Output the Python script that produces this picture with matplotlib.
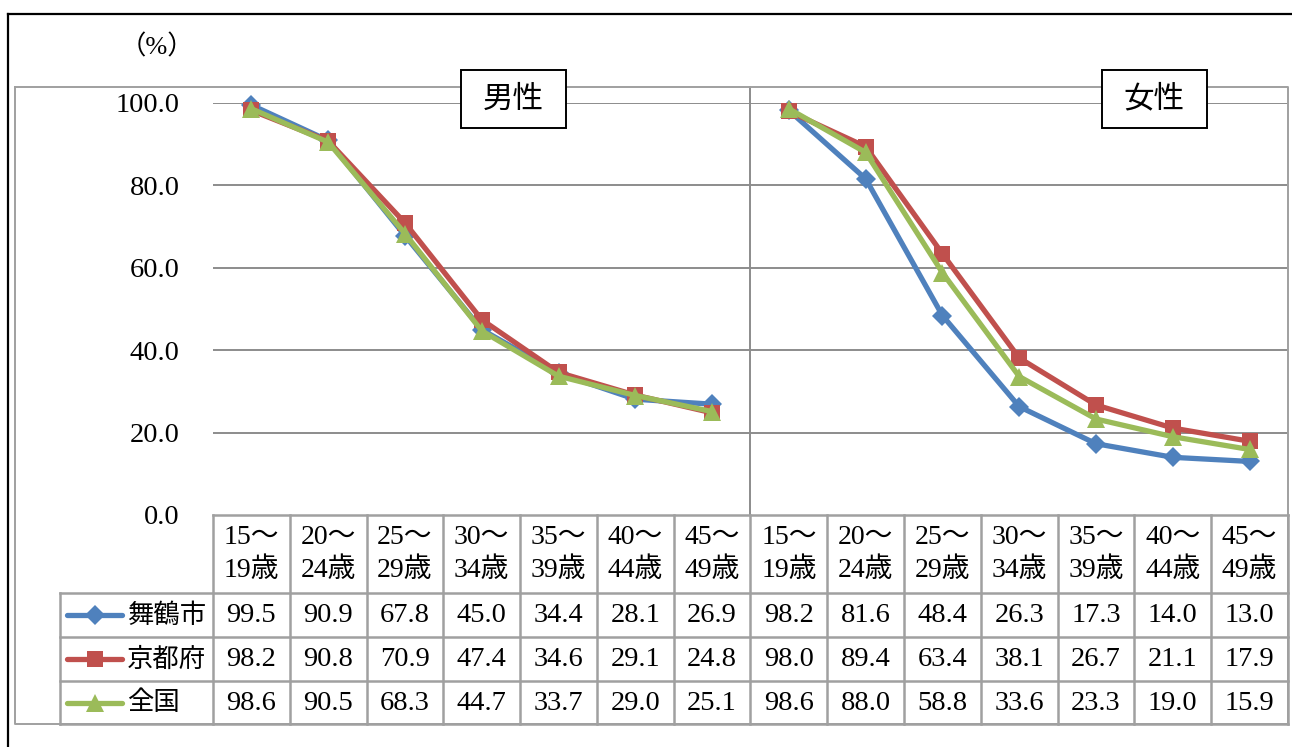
import matplotlib
matplotlib.use("Agg")
import matplotlib.pyplot as plt
from matplotlib.transforms import Affine2D, blended_transform_factory
from matplotlib.patches import Rectangle
from matplotlib.lines import Line2D

# ---- data -------------------------------------------------------------
age_groups = ["15～\n19歳", "20～\n24歳", "25～\n29歳", "30～\n34歳",
              "35～\n39歳", "40～\n44歳", "45～\n49歳"]
categories = age_groups + age_groups          # 男性 7 groups, then 女性 7 groups
panel_titles = ["男性", "女性"]
series_names = ["舞鶴市", "京都府", "全国"]
maizuru = [99.5, 90.9, 67.8, 45.0, 34.4, 28.1, 26.9,
           98.2, 81.6, 48.4, 26.3, 17.3, 14.0, 13.0]
kyoto = [98.2, 90.8, 70.9, 47.4, 34.6, 29.1, 24.8,
         98.0, 89.4, 63.4, 38.1, 26.7, 21.1, 17.9]
zenkoku = [98.6, 90.5, 68.3, 44.7, 33.7, 29.0, 25.1,
           98.6, 88.0, 58.8, 33.6, 23.3, 19.0, 15.9]
yticks = [0, 20, 40, 60, 80, 100]
unit_label = "（%）"

series_values = [maizuru, kyoto, zenkoku]
colors = ["#4F81BD", "#C0504D", "#9BBB59"]
markers = ["D", "s", "^"]
msizes = [10, 12, 13.5]

SERIF = ["Liberation Serif", "Noto Sans CJK JP"]
CJK = ["Noto Sans CJK JP", "DejaVu Sans"]
GRID = "#8c8c8c"
TBL = "#a0a0a0"
NUM_FS = 20.5

W, H = 1292, 747
fig = plt.figure(figsize=(W / 100, H / 100), dpi=100)
fig.patch.set_facecolor("white")

# transform taking pixel coordinates measured from the top-left corner
pxT = Affine2D().scale(1 / W, -1 / H).translate(0, 1) + fig.transFigure

# plot area: x spans the 14 table columns, y spans 0..100
X0, X1 = 213, 1288
Y0, Y100 = 515, 103
ax = fig.add_axes([X0 / W, 1 - Y0 / H, (X1 - X0) / W, (Y0 - Y100) / H])
n = len(categories)
ax.set_xlim(-0.5, n - 0.5)
ax.set_ylim(0, 100)
for s in ax.spines.values():
    s.set_visible(False)
ax.set_xticks([])
ax.set_yticks(yticks)
ax.set_yticklabels([f"{v:.1f}" for v in yticks], fontfamily=SERIF, fontsize=NUM_FS)
ax.tick_params(axis="y", length=0, pad=24)
for v in yticks[1:]:
    ax.axhline(v, color=GRID, lw=1.4, zorder=1)

# top of plot area lies a little above 100
top_val = (Y0 - 87) / ((Y0 - Y100) / 100)
ax.plot([(n / 2) - 0.5] * 2, [0, top_val], color=GRID, lw=1.4,
        clip_on=False, zorder=1)

# lines: each panel drawn separately
half = n // 2
for vals, c, m, ms in zip(series_values, colors, markers, msizes):
    for start in (0, half):
        xs = list(range(start, start + half))
        ax.plot(xs, vals[start:start + half], color=c, lw=3.8,
                marker=m, markersize=ms, markeredgewidth=0,
                clip_on=False, zorder=3)

# ---- chrome in pixel coordinates -------------------------------------
def pline(xs, ys, color, lw, z=1):
    fig.add_artist(Line2D(xs, ys, transform=pxT, color=color, lw=lw, zorder=z))

# outer black frame (top and left edges)
pline([8, W], [14, 14], "black", 1.6)
pline([8, 8], [14, H], "black", 1.6)
# grey plot-area border
pline([15, X1, X1, 15, 15], [87, 87, 724, 724, 87], TBL, 1.4)

# panel title boxes
for title, cx in zip(panel_titles, [513, 1154]):
    fig.add_artist(Rectangle((cx - 52.5, 128), 105, -58, transform=pxT,
                             facecolor="white", edgecolor="black", lw=1.4,
                             zorder=5))
    fig.text(cx / W, 1 - 99 / H, title, ha="center", va="center",
             fontfamily=CJK, fontsize=22, zorder=6)

fig.text(157 / W, 1 - 47 / H, unit_label, ha="center", va="center",
         fontfamily=SERIF, fontsize=19)

# ---- data table -------------------------------------------------------
rows_y = [515, 593, 637, 681, 724]
LEG_X = 60
colT = blended_transform_factory(ax.transData, pxT)

# horizontal rules
pline([X0, X1], [rows_y[0]] * 2, TBL, 1.8)
for y in rows_y[1:]:
    pline([LEG_X, X1], [y, y], TBL, 1.8)
# vertical rules
for i in range(n + 1):
    fig.add_artist(Line2D([i - 0.5, i - 0.5], [rows_y[0], rows_y[-1]],
                          transform=colT, color=TBL, lw=1.8, zorder=1))
pline([LEG_X, LEG_X], [rows_y[1], rows_y[-1]], TBL, 1.8)

# header cells
for i, lab in enumerate(categories):
    top, bottom = lab.split("\n")
    ax.text(i, 537, top, transform=colT, ha="center", va="center",
            fontfamily=SERIF, fontsize=20)
    ax.text(i, 570, bottom, transform=colT, ha="center", va="center",
            fontfamily=SERIF, fontsize=20)

# value rows with legend keys
for r, (name, vals, c, m, ms) in enumerate(zip(series_names, series_values,
                                                colors, markers, msizes)):
    yc = (rows_y[r + 1] + rows_y[r + 2]) / 2
    for i, v in enumerate(vals):
        ax.text(i, yc + 1, f"{v:.1f}", transform=colT, ha="center",
                va="center", fontfamily=SERIF, fontsize=NUM_FS)
    fig.add_artist(Line2D([67, 122], [yc, yc], transform=pxT, color=c,
                          lw=3.8, solid_capstyle="round", zorder=3))
    fig.add_artist(Line2D([95], [yc], transform=pxT, color=c, marker=m,
                          markersize=ms, markeredgewidth=0, zorder=4))
    fig.text(127 / W, 1 - yc / H, name, ha="left", va="center",
             fontfamily=CJK, fontsize=19)

fig.savefig("out.png", dpi=100, facecolor="white")
